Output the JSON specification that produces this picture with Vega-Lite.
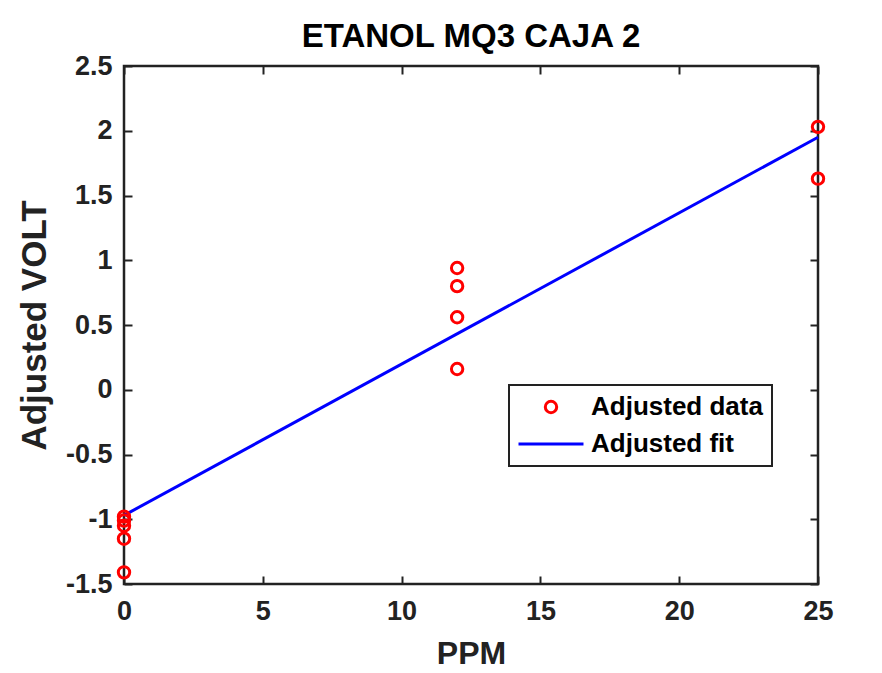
{
  "$schema": "https://vega.github.io/schema/vega-lite/v6.json",
  "autosize": "none",
  "width": 694,
  "height": 518,
  "padding": {"left": 124, "top": 66, "right": 64, "bottom": 89},
  "background": "white",
  "title": {
    "text": "ETANOL MQ3 CAJA 2",
    "font": "Liberation Sans",
    "fontSize": 33,
    "fontWeight": "bold",
    "color": "black",
    "anchor": "middle",
    "offset": -2
  },
  "config": {
    "view": {"stroke": "#222222", "strokeWidth": 2.5},
    "axis": {
      "labelFont": "Liberation Sans",
      "labelFontSize": 27,
      "labelFontWeight": "bold",
      "labelColor": "#222222",
      "labelFlush": false,
      "titleFont": "Liberation Sans",
      "titleFontSize": 32,
      "titleFontWeight": "bold",
      "titleColor": "#222222",
      "grid": false,
      "domain": false,
      "tickColor": "#222222",
      "tickWidth": 2,
      "tickSize": -8
    },
    "legend": {
      "orient": "none",
      "legendX": 385,
      "legendY": 319,
      "title": null,
      "labelFont": "Liberation Sans",
      "labelFontSize": 26,
      "labelFontWeight": "bold",
      "labelColor": "black",
      "labelLimit": 400,
      "symbolSize": 130,
      "symbolStrokeWidth": 3,
      "strokeColor": "#222222",
      "strokeWidth": 2,
      "fillColor": "white",
      "padding": 9,
      "rowPadding": 11,
      "symbolOffset": 20,
      "labelOffset": 27
    }
  },
  "datasets": {
    "pts": [
      {"PPM": 0, "VOLT": -0.98, "series": "Adjusted data"},
      {"PPM": 0, "VOLT": -1.01, "series": "Adjusted data"},
      {"PPM": 0, "VOLT": -1.05, "series": "Adjusted data"},
      {"PPM": 0, "VOLT": -1.15, "series": "Adjusted data"},
      {"PPM": 0, "VOLT": -1.41, "series": "Adjusted data"},
      {"PPM": 12, "VOLT": 0.94, "series": "Adjusted data"},
      {"PPM": 12, "VOLT": 0.8, "series": "Adjusted data"},
      {"PPM": 12, "VOLT": 0.56, "series": "Adjusted data"},
      {"PPM": 12, "VOLT": 0.16, "series": "Adjusted data"},
      {"PPM": 25, "VOLT": 2.03, "series": "Adjusted data"},
      {"PPM": 25, "VOLT": 1.63, "series": "Adjusted data"}
    ],
    "fit": [
      {"PPM": 0, "VOLT": -0.97, "series": "Adjusted fit"},
      {"PPM": 25, "VOLT": 1.95, "series": "Adjusted fit"}
    ]
  },
  "layer": [
    {
      "data": {"name": "fit"},
      "mark": {"type": "line", "strokeWidth": 3, "clip": false},
      "encoding": {
        "x": {
          "field": "PPM", "type": "quantitative",
          "scale": {"domain": [0, 25], "nice": false, "zero": false},
          "axis": {"title": "PPM", "values": [0, 5, 10, 15, 20, 25], "labelPadding": 22, "titlePadding": 14, "labelExpr": "'' + datum.value"}
        },
        "y": {
          "field": "VOLT", "type": "quantitative",
          "scale": {"domain": [-1.5, 2.5], "nice": false, "zero": false},
          "axis": {"title": "Adjusted VOLT", "titleFontSize": 35, "values": [-1.5, -1, -0.5, 0, 0.5, 1, 1.5, 2, 2.5], "labelPadding": 20, "titlePadding": 13, "labelExpr": "'' + datum.value"}
        },
        "color": {
          "field": "series", "type": "nominal",
          "scale": {"domain": ["Adjusted data", "Adjusted fit"], "range": ["#ff0000", "#0000ff"]}
        }
      }
    },
    {
      "data": {"name": "pts"},
      "mark": {"type": "point", "filled": false, "size": 130, "strokeWidth": 3, "opacity": 1, "clip": false},
      "encoding": {
        "x": {"field": "PPM", "type": "quantitative", "axis": {"orient": "top", "labels": false, "title": null, "values": [0, 5, 10, 15, 20, 25]}},
        "y": {"field": "VOLT", "type": "quantitative", "axis": {"orient": "right", "labels": false, "title": null, "values": [-1.5, -1, -0.5, 0, 0.5, 1, 1.5, 2, 2.5]}},
        "color": {"field": "series", "type": "nominal"},
        "shape": {
          "field": "series", "type": "nominal",
          "scale": {"domain": ["Adjusted data", "Adjusted fit"], "range": ["circle", "M-5.7,0H5.7"]}
        }
      }
    }
  ],
  "resolve": {"axis": {"x": "independent", "y": "independent"}}
}
